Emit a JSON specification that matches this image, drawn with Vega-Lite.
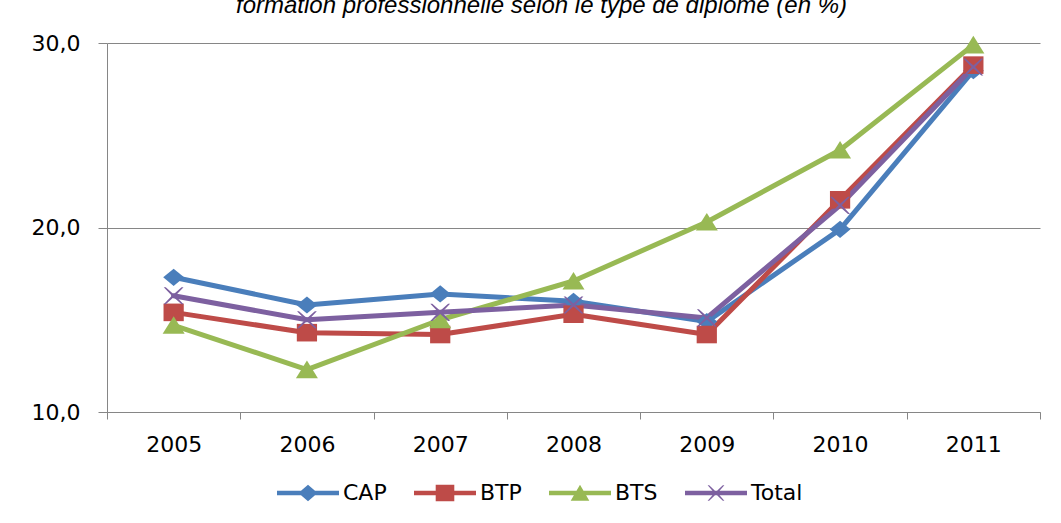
{
  "$schema": "https://vega.github.io/schema/vega-lite/v6.json",
  "width": 933,
  "height": 369,
  "autosize": {"type": "none"},
  "padding": {"left": 107, "top": 43, "right": 21, "bottom": 111},
  "background": "white",
  "title": {
    "text": "formation professionnelle selon le type de diplôme (en %)",
    "font": "Liberation Sans",
    "fontSize": 24,
    "fontStyle": "italic",
    "fontWeight": "normal",
    "color": "#000000",
    "anchor": "middle",
    "frame": "group",
    "baseline": "alphabetic",
    "offset": 0,
    "dx": -32,
    "dy": 5
  },
  "data": {
    "values": [
      {"annee": "2005", "serie": "CAP", "valeur": 17.3},
      {"annee": "2006", "serie": "CAP", "valeur": 15.8},
      {"annee": "2007", "serie": "CAP", "valeur": 16.4},
      {"annee": "2008", "serie": "CAP", "valeur": 16.0},
      {"annee": "2009", "serie": "CAP", "valeur": 14.9},
      {"annee": "2010", "serie": "CAP", "valeur": 19.9},
      {"annee": "2011", "serie": "CAP", "valeur": 28.5},
      {"annee": "2005", "serie": "BTP", "valeur": 15.4},
      {"annee": "2006", "serie": "BTP", "valeur": 14.3},
      {"annee": "2007", "serie": "BTP", "valeur": 14.2},
      {"annee": "2008", "serie": "BTP", "valeur": 15.3},
      {"annee": "2009", "serie": "BTP", "valeur": 14.2},
      {"annee": "2010", "serie": "BTP", "valeur": 21.5},
      {"annee": "2011", "serie": "BTP", "valeur": 28.8},
      {"annee": "2005", "serie": "BTS", "valeur": 14.7},
      {"annee": "2006", "serie": "BTS", "valeur": 12.3},
      {"annee": "2007", "serie": "BTS", "valeur": 15.0},
      {"annee": "2008", "serie": "BTS", "valeur": 17.1},
      {"annee": "2009", "serie": "BTS", "valeur": 20.3},
      {"annee": "2010", "serie": "BTS", "valeur": 24.2},
      {"annee": "2011", "serie": "BTS", "valeur": 29.9},
      {"annee": "2005", "serie": "Total", "valeur": 16.3},
      {"annee": "2006", "serie": "Total", "valeur": 15.0},
      {"annee": "2007", "serie": "Total", "valeur": 15.4},
      {"annee": "2008", "serie": "Total", "valeur": 15.8},
      {"annee": "2009", "serie": "Total", "valeur": 15.1},
      {"annee": "2010", "serie": "Total", "valeur": 21.2},
      {"annee": "2011", "serie": "Total", "valeur": 28.7}
    ]
  },
  "encoding": {
    "x": {
      "field": "annee",
      "type": "ordinal",
      "scale": {"paddingInner": 0, "paddingOuter": 0},
      "axis": {
        "title": null,
        "labelAngle": 0,
        "labelFont": "DejaVu Sans",
        "labelFontSize": 22,
        "labelColor": "#000000",
        "labelPadding": 15,
        "tickBand": "extent",
        "tickSize": 7,
        "tickColor": "#868686",
        "domainColor": "#868686",
        "grid": false
      }
    },
    "y": {
      "field": "valeur",
      "type": "quantitative",
      "scale": {"domain": [10, 30], "nice": false, "zero": false},
      "axis": {
        "title": null,
        "values": [10, 20, 30],
        "labelExpr": "replace(format(datum.value, '.1f'), '.', ',')",
        "labelFont": "DejaVu Sans",
        "labelFontSize": 22,
        "labelColor": "#000000",
        "labelPadding": 18,
        "tickSize": 9,
        "tickColor": "#868686",
        "domainColor": "#868686",
        "grid": true,
        "gridColor": "#868686",
        "gridWidth": 1
      }
    }
  },
  "layer": [
    {
      "mark": {"type": "line", "strokeWidth": 5, "strokeJoin": "round", "strokeCap": "round"},
      "encoding": {
        "color": {
          "field": "serie",
          "type": "nominal",
          "sort": ["CAP", "BTP", "BTS", "Total"],
          "scale": {
            "domain": ["CAP", "BTP", "BTS", "Total"],
            "range": ["#4A7EBB", "#BE4B48", "#98B954", "#7D60A0"]
          },
          "legend": {
            "title": null,
            "orient": "none",
            "direction": "horizontal",
            "legendX": 170,
            "legendY": 419,
            "padding": 0,
            "labelFont": "DejaVu Sans",
            "labelFontSize": 22,
            "labelColor": "#000000",
            "labelOffset": 4,
            "columnPadding": 27,
            "symbolSize": 3844,
            "encode": {
              "symbols": {
                "update": {
                  "shape": {"signal": "datum.value === 'CAP' ? 'M-1,-0.07H1V0.07H-1Z M-0.31,0L0,-0.27L0.31,0L0,0.27Z' : datum.value === 'BTP' ? 'M-1,-0.07H1V0.07H-1Z M-0.3,-0.27H0.3V0.27H-0.3Z' : datum.value === 'BTS' ? 'M-1,-0.07H1V0.07H-1Z M0,-0.27L0.3,0.25L-0.3,0.25Z' : 'M-1,-0.07H1V0.07H-1Z M-0.27,-0.25L-0.22,-0.25L0,-0.04L0.22,-0.25L0.27,-0.25L0.05,0L0.27,0.25L0.22,0.25L0,0.04L-0.22,0.25L-0.27,0.25L-0.05,0Z'"},
                  "fill": {"scale": "color", "field": "value"},
                  "stroke": {"value": "transparent"},
                  "strokeWidth": {"value": 0},
                  "size": {"value": 3844},
                  "opacity": {"value": 1}
                }
              }
            }
          }
        }
      }
    },
    {
      "mark": {"type": "point", "filled": true, "size": 484, "opacity": 1, "strokeWidth": 0},
      "encoding": {
        "color": {
          "field": "serie",
          "type": "nominal",
          "sort": ["CAP", "BTP", "BTS", "Total"],
          "legend": null
        },
        "shape": {
          "condition": [
            {"test": "datum.serie === 'CAP'", "value": "M-0.95,0L0,-0.78L0.95,0L0,0.78Z"},
            {"test": "datum.serie === 'BTP'", "value": "M-0.92,-0.8H0.92V0.8H-0.92Z"},
            {"test": "datum.serie === 'BTS'", "value": "M0,-0.82L1,0.78L-1,0.78Z"}
          ],
          "value": "M-0.9,-0.78L-0.72,-0.78L0,-0.14L0.72,-0.78L0.9,-0.78L0.16,0L0.9,0.78L0.72,0.78L0,0.14L-0.72,0.78L-0.9,0.78L-0.16,0Z"
        }
      }
    }
  ],
  "config": {
    "view": {"stroke": null},
    "axis": {"domainWidth": 1, "tickWidth": 1}
  }
}
